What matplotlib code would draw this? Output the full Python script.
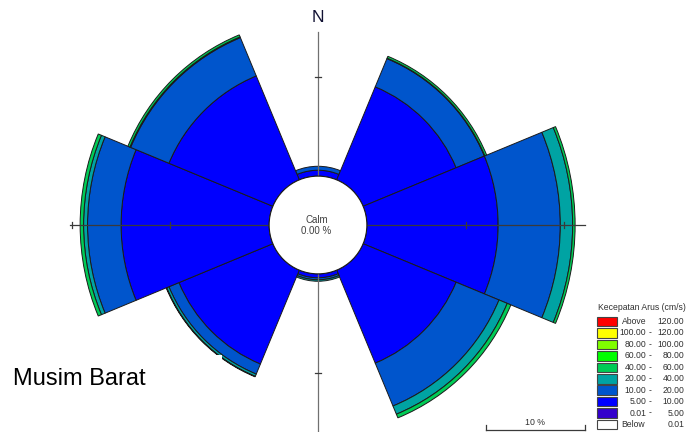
"""
Current rose (mawar arus) - Musim Barat
"""
import numpy as np
import matplotlib
matplotlib.use("Agg")
import matplotlib.pyplot as plt
from matplotlib.patches import Wedge, Circle, Rectangle

plt.rcParams["font.family"] = ["Liberation Sans", "DejaVu Sans"]

# --- data (% of occurrence per direction and speed class) ---
directions = ["N", "NE", "E", "SE", "S", "SW", "W", "NW"]
dir_deg = [0, 45, 90, 135, 180, 225, 270, 315]
spd_0_5 = [0.0, 0.0, 0.0, 0.0, 0.0, 0.0, 0.0, 0.0]
spd_5_10 = [0.6, 10.2, 13.3, 10.2, 0.4, 10.3, 15.0, 11.4]
spd_10_20 = [0.4, 3.1, 6.3, 4.7, 0.2, 1.1, 3.4, 4.2]
spd_20_40 = [0.0, 0.05, 1.25, 0.9, 0.15, 0.25, 0.4, 0.08]
spd_40_60 = [0.0, 0.2, 0.25, 0.4, 0.0, 0.05, 0.35, 0.22]
spd_60_80 = [0.0, 0.0, 0.0, 0.0, 0.0, 0.0, 0.0, 0.0]
spd_80_100 = [0.0, 0.0, 0.0, 0.0, 0.0, 0.0, 0.0, 0.0]
spd_100_120 = [0.0, 0.0, 0.0, 0.0, 0.0, 0.0, 0.0, 0.0]
spd_above_120 = [0.0, 0.0, 0.0, 0.0, 0.0, 0.0, 0.0, 0.0]
calm_pct = 0.00

legend_lo = ["Above", "100.00", "80.00", "60.00", "40.00", "20.00", "10.00", "5.00", "0.01", "Below"]
legend_hi = ["120.00", "120.00", "100.00", "80.00", "60.00", "40.00", "20.00", "10.00", "5.00", "0.01"]

# low -> high speed, for stacking
classes = [spd_0_5, spd_5_10, spd_10_20, spd_20_40, spd_40_60,
           spd_60_80, spd_80_100, spd_100_120, spd_above_120]
colors = ["#3300CC", "#0000FF", "#0055CC", "#00A3A3", "#00CC55",
          "#00FF00", "#80FF00", "#FFFF00", "#FF0000"]

# --- layout ---
W, H = 690, 432
CX, CY = 318, 225          # rose centre in pixels
S = 9.87                   # pixels per percent
CALM_R = 4.95              # calm circle radius, in percent units
EDGE = "#1a1a1a"
AX_COL = "#3a3a3a"

fig = plt.figure(figsize=(W / 100, H / 100), dpi=100)
ax = fig.add_axes([0, 0, 1, 1])
ax.set_xlim(-CX / S, (W - CX) / S)
ax.set_ylim(-(H - CY) / S, CY / S)
ax.axis("off")

half = 22.5
for i, d in enumerate(dir_deg):
    cum = CALM_R
    for vals, col in zip(classes, colors):
        v = vals[i]
        if v <= 0:
            continue
        cum += v
        ax.add_patch(Wedge((0, 0), cum, 90 - d - half, 90 - d + half, width=v,
                           facecolor=col, edgecolor=EDGE, lw=0.7, zorder=2))

# cross axes with ticks at 10 % and 20 %
ax.plot([-(CALM_R + 20.2), CALM_R + 22.1], [0, 0], color=AX_COL, lw=0.9, zorder=3)
ax.plot([0, 0], [-(CALM_R + 25), CALM_R + 14.6], color="#707070", lw=0.9, zorder=3)
tk = 0.35
for r in [CALM_R + 10, CALM_R + 20]:
    for sgn in [-1, 1]:
        ax.plot([sgn * r, sgn * r], [-tk, tk], color=AX_COL, lw=0.9, zorder=3)
        ax.plot([-tk, tk], [sgn * r, sgn * r], color=AX_COL, lw=0.9, zorder=3)

ax.add_patch(Circle((0, 0), CALM_R, facecolor="white", edgecolor=EDGE, lw=0.8, zorder=4))
ax.text(-0.15, 0.5, "Calm", ha="center", va="center", fontsize=7, color="#404040", zorder=5)
ax.text(-0.15, -0.65, f"{calm_pct:.2f} %", ha="center", va="center", fontsize=7,
        color="#404040", zorder=5)
ax.text(0, CY / S - 18 / S, "N", ha="center", va="center", fontsize=12.5, color="#111133")

# scale bar (10 %)
x0, y0 = (486 - CX) / S, -(429.5 - CY) / S
ax.plot([x0, x0 + 10], [y0, y0], color=AX_COL, lw=0.9)
for xx in [x0, x0 + 10]:
    ax.plot([xx, xx], [y0, y0 + 0.45], color=AX_COL, lw=0.9)
ax.text(x0 + 5, y0 + 0.75, "10 %", ha="center", va="center", fontsize=6.3, color="#303030")


def fx(x):
    return x / W


def fy(y):
    return 1 - y / H


# white box behind the title (hides a bit of the SW petal like the original)
fig.add_artist(Rectangle((0, fy(405)), fx(221.5), fy(355) - fy(405),
                         transform=fig.transFigure, facecolor="white",
                         edgecolor="none", zorder=6))
fig.text(fx(13), fy(379), "Musim Barat", ha="left", va="center", fontsize=17,
         color="black", zorder=7)

# legend
fig.text(fx(598), fy(307.5), "Kecepatan Arus (cm/s)", ha="left", va="center",
         fontsize=6.2, color="#303030")
leg_cols = colors[::-1] + ["white"]
for k in range(len(legend_lo)):
    yc = 321.5 + k * 11.45
    fig.add_artist(Rectangle((fx(597), fy(yc + 4.8)), fx(20), fy(yc - 4.8) - fy(yc + 4.8),
                             transform=fig.transFigure, facecolor=leg_cols[k],
                             edgecolor="#444444", lw=0.8))
    lo, hi = legend_lo[k], legend_hi[k]
    if lo in ("Above", "Below"):
        fig.text(fx(621.5), fy(yc), lo, ha="left", va="center", fontsize=6.2, color="#303030")
    else:
        fig.text(fx(646.5), fy(yc), lo, ha="right", va="center", fontsize=6.2, color="#303030")
        fig.text(fx(650.5), fy(yc), "-", ha="center", va="center", fontsize=6.2, color="#303030")
    fig.text(fx(684.5), fy(yc), hi, ha="right", va="center", fontsize=6.2, color="#303030")

fig.savefig("out.png", dpi=100)
